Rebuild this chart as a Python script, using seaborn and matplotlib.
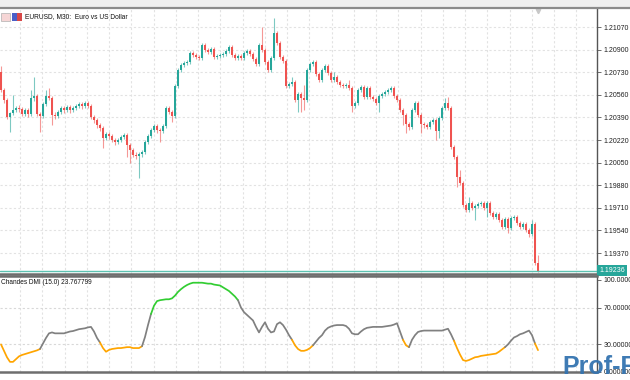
import numpy as np
import pandas as pd
import matplotlib
matplotlib.use("Agg")
import matplotlib.pyplot as plt
from matplotlib.patches import Rectangle
from matplotlib.lines import Line2D
from matplotlib.transforms import blended_transform_factory
import seaborn as sns

# ---------------- data ----------------
symbol_title = "EURUSD, M30:  Euro vs US Dollar"
indicator_title = "Chandes DMI (15.0) 23.767799"
last_price_label = "1.19236"

first_open = 1.20732
closes = [
    1.20596, 1.20521, 1.20393, 1.20423, 1.20446, 1.20461, 1.20453, 1.20416, 1.20446, 1.20416,
    1.20536, 1.20551, 1.20416, 1.20401, 1.20491, 1.20551, 1.20536, 1.20408, 1.20401, 1.20431,
    1.20461, 1.20446, 1.20468, 1.20446, 1.20461, 1.20476, 1.20491, 1.20476, 1.20499, 1.20476,
    1.20393, 1.20371, 1.20333, 1.20310, 1.20235, 1.20265, 1.20250, 1.20220, 1.20205, 1.20220,
    1.20243, 1.20258, 1.20183, 1.20145, 1.20107, 1.20100, 1.20115, 1.20130, 1.20205, 1.20250,
    1.20295, 1.20326, 1.20295, 1.20288, 1.20326, 1.20461, 1.20431, 1.20401, 1.20626, 1.20747,
    1.20784, 1.20799, 1.20807, 1.20874, 1.20859, 1.20844, 1.20837, 1.20935, 1.20897, 1.20882,
    1.20905, 1.20844, 1.20852, 1.20859, 1.20867, 1.20890, 1.20920, 1.20859, 1.20837, 1.20852,
    1.20837, 1.20874, 1.20890, 1.20867, 1.20829, 1.20792, 1.20935, 1.20897, 1.20807, 1.20747,
    1.20837, 1.21025, 1.20950, 1.20844, 1.20814, 1.20626, 1.20641, 1.20656, 1.20521, 1.20566,
    1.20536, 1.20521, 1.20747, 1.20792, 1.20807, 1.20717, 1.20671, 1.20747, 1.20777, 1.20724,
    1.20671, 1.20694, 1.20656, 1.20634, 1.20626, 1.20634, 1.20611, 1.20476, 1.20499, 1.20596,
    1.20619, 1.20544, 1.20611, 1.20544, 1.20529, 1.20499, 1.20551, 1.20566, 1.20581, 1.20596,
    1.20611, 1.20551, 1.20521, 1.20446, 1.20408, 1.20341, 1.20318, 1.20446, 1.20499, 1.20408,
    1.20341, 1.20333, 1.20318, 1.20355, 1.20371, 1.20288, 1.20386, 1.20461, 1.20499, 1.20461,
    1.20168, 1.20092, 1.19942, 1.19897, 1.19731, 1.19694, 1.19747, 1.19709, 1.19724, 1.19739,
    1.19747, 1.19709, 1.19747, 1.19671, 1.19641, 1.19664, 1.19619, 1.19566, 1.19626, 1.19559,
    1.19634, 1.19641, 1.19596, 1.19566, 1.19589, 1.19543, 1.19513, 1.19589, 1.19295, 1.19236,
]
highs = [
    1.20777, 1.20611, 1.20536, 1.20431, 1.20559, 1.20476, 1.20483, 1.20468, 1.20461, 1.20461,
    1.20596, 1.20694, 1.20566, 1.20431, 1.20506, 1.20596, 1.20611, 1.20551, 1.20431, 1.20446,
    1.20476, 1.20476, 1.20483, 1.20483, 1.20476, 1.20491, 1.20506, 1.20506, 1.20514, 1.20514,
    1.20491, 1.20408, 1.20386, 1.20348, 1.20326, 1.20280, 1.20280, 1.20265, 1.20235, 1.20235,
    1.20258, 1.20273, 1.20273, 1.20198, 1.20160, 1.20130, 1.20130, 1.20145, 1.20220, 1.20265,
    1.20310, 1.20341, 1.20341, 1.20310, 1.20341, 1.20476, 1.20476, 1.20446, 1.20641, 1.20762,
    1.20799, 1.20814, 1.20822, 1.20890, 1.20890, 1.20874, 1.20859, 1.20950, 1.20950, 1.20912,
    1.20920, 1.20920, 1.20867, 1.20874, 1.20882, 1.20905, 1.20935, 1.20935, 1.20874, 1.20867,
    1.20867, 1.20890, 1.20905, 1.20905, 1.20882, 1.20844, 1.20950, 1.21070, 1.20912, 1.20822,
    1.20852, 1.21138, 1.21040, 1.20965, 1.20859, 1.20829, 1.20656, 1.20694, 1.20671, 1.20581,
    1.20581, 1.20634, 1.20762, 1.20807, 1.20822, 1.20822, 1.20732, 1.20762, 1.20792, 1.20792,
    1.20739, 1.20732, 1.20709, 1.20671, 1.20649, 1.20649, 1.20671, 1.20626, 1.20514, 1.20611,
    1.20634, 1.20634, 1.20626, 1.20626, 1.20559, 1.20544, 1.20566, 1.20581, 1.20596, 1.20611,
    1.20626, 1.20626, 1.20566, 1.20536, 1.20461, 1.20423, 1.20355, 1.20461, 1.20514, 1.20514,
    1.20423, 1.20355, 1.20348, 1.20371, 1.20386, 1.20386, 1.20401, 1.20476, 1.20536, 1.20544,
    1.20476, 1.20183, 1.20107, 1.19995, 1.19912, 1.19747, 1.19792, 1.19762, 1.19739, 1.19754,
    1.19762, 1.19762, 1.19762, 1.19762, 1.19686, 1.19679, 1.19679, 1.19634, 1.19641, 1.19641,
    1.19649, 1.19656, 1.19656, 1.19611, 1.19604, 1.19604, 1.19559, 1.19619, 1.19604, 1.19355,
]
lows = [
    1.20581, 1.20499, 1.20378, 1.20280, 1.20408, 1.20431, 1.20431, 1.20401, 1.20401, 1.20393,
    1.20401, 1.20514, 1.20401, 1.20280, 1.20386, 1.20476, 1.20521, 1.20333, 1.20378, 1.20386,
    1.20416, 1.20423, 1.20431, 1.20423, 1.20431, 1.20446, 1.20461, 1.20453, 1.20461, 1.20461,
    1.20378, 1.20348, 1.20310, 1.20288, 1.20160, 1.20220, 1.20228, 1.20205, 1.20183, 1.20190,
    1.20205, 1.20228, 1.20092, 1.20047, 1.20092, 1.20077, 1.19934, 1.20092, 1.20115, 1.20190,
    1.20235, 1.20280, 1.20273, 1.20205, 1.20273, 1.20310, 1.20416, 1.20355, 1.20386, 1.20611,
    1.20732, 1.20769, 1.20784, 1.20792, 1.20844, 1.20829, 1.20822, 1.20822, 1.20882, 1.20867,
    1.20867, 1.20829, 1.20829, 1.20837, 1.20844, 1.20852, 1.20874, 1.20844, 1.20822, 1.20822,
    1.20822, 1.20822, 1.20859, 1.20852, 1.20814, 1.20777, 1.20777, 1.20882, 1.20792, 1.20732,
    1.20732, 1.20822, 1.20935, 1.20829, 1.20799, 1.20611, 1.20611, 1.20626, 1.20506, 1.20431,
    1.20431, 1.20446, 1.20506, 1.20732, 1.20777, 1.20702, 1.20656, 1.20656, 1.20732, 1.20709,
    1.20656, 1.20656, 1.20641, 1.20619, 1.20611, 1.20611, 1.20596, 1.20431, 1.20461, 1.20483,
    1.20581, 1.20529, 1.20529, 1.20529, 1.20514, 1.20483, 1.20431, 1.20536, 1.20551, 1.20566,
    1.20581, 1.20536, 1.20506, 1.20431, 1.20333, 1.20273, 1.20295, 1.20303, 1.20431, 1.20393,
    1.20273, 1.20310, 1.20303, 1.20303, 1.20341, 1.20220, 1.20235, 1.20371, 1.20446, 1.20446,
    1.20153, 1.20077, 1.19867, 1.19882, 1.19716, 1.19679, 1.19679, 1.19694, 1.19619, 1.19709,
    1.19724, 1.19694, 1.19641, 1.19656, 1.19626, 1.19626, 1.19604, 1.19551, 1.19551, 1.19521,
    1.19543, 1.19619, 1.19581, 1.19551, 1.19551, 1.19528, 1.19491, 1.19498, 1.19280, 1.19230,
]
dmi = [
    30, 23, 16, 11, 11, 14, 17, 18.5, 19.5, 20.5,
    21.5, 22.5, 23.5, 25, 31, 37, 42, 43, 42, 42,
    42, 42, 43, 44, 44.5, 45.5, 46.5, 47, 47.5, 48.5,
    49, 44, 37, 32, 26, 22, 24, 25, 25.5, 26,
    26, 26.5, 27, 27, 26, 26, 26, 28, 38, 51,
    63, 72, 77, 78, 78.5, 79, 79, 80, 83, 87,
    90, 92.5, 94.5, 96, 97, 97, 97, 97, 96.5, 96,
    96, 95, 94.5, 94, 92, 90, 88, 85, 82, 78,
    70, 65, 62, 59, 56, 49, 43, 49, 54, 47,
    43, 44, 52, 54, 51, 46, 40, 35, 29, 25,
    23, 23, 24, 26, 29, 33, 37, 40, 45, 48,
    49.5, 50.5, 51, 51, 51, 50, 47, 42, 41, 41,
    44, 46.5, 48, 48.5, 49, 49, 49, 49, 49.5, 50,
    50.5, 51.5, 53, 44, 35, 29, 27, 35, 40, 43.5,
    44.5, 45, 45, 45, 45, 45, 45, 45, 46, 47,
    41, 34, 26, 19, 13, 12, 13, 14.5, 16, 16.5,
    17.5, 18, 18.5, 19, 19.5, 20, 22, 24.5, 27, 30,
    34, 37.5, 39, 41, 42, 43.5, 45, 40, 31, 23.767799,
]
price_ticks = [1.21070, 1.20900, 1.20730, 1.20560, 1.20390, 1.20220,
               1.20050, 1.19880, 1.19710, 1.19540, 1.19370]
price_tick_labels = ["1.21070", "1.20900", "1.20730", "1.20560", "1.20390", "1.20220",
                     "1.20050", "1.19880", "1.19710", "1.19540", "1.19370"]
dmi_ticks = [100, 70, 30, 0]
dmi_tick_labels = ["100.000000", "70.000000", "30.000000", "0.000000"]
dmi_levels = [70, 30]

# ---------------- style ----------------
sns.set_theme(style="white")
plt.rcParams['font.family'] = ['Liberation Sans', 'DejaVu Sans']

BULL = "#26a69a"
BEAR = "#ef5350"
GREEN = "#32cd32"
GRAY = "#808080"
ORANGE = "#ffa500"
GRID = "#e2e2e2"
FS = 5.0

W, H = 630, 380
fig = plt.figure(figsize=(6.3, 3.8), dpi=100)
fig.patch.set_facecolor("white")


def px_rect(x0, y0, x1, y1):
    return [x0 / W, 1 - y1 / H, (x1 - x0) / W, (y1 - y0) / H]


ax = fig.add_axes(px_rect(0, 8, 597, 274))
ax2 = fig.add_axes(px_rect(0, 276, 597, 372))

# top window band
fig.patches.append(Rectangle((0, 1 - 7 / H), 1, 7 / H, transform=fig.transFigure,
                             facecolor="#f0f0f0", edgecolor="none", zorder=0))
fig.lines.append(Line2D([0, 1], [1 - 7.5 / H, 1 - 7.5 / H], transform=fig.transFigure,
                        color="#8c8c8c", lw=1.6))

df = pd.DataFrame({"close": closes, "high": highs, "low": lows})
df["open"] = [first_open] + closes[:-1]
df["idx"] = np.arange(len(df))
bull = df["close"] >= df["open"]
colors = np.where(bull, BULL, BEAR)

x_left, x_right = -1 / 3, (597 - 1) / 3
grid_x = [(20 + 22.25 * k - 1) / 3 for k in range(27)]

# ---------------- main pane ----------------
for gx in grid_x:
    ax.axvline(gx, color=GRID, lw=0.8, ls=(0, (2, 2)), zorder=0)
for t in price_ticks:
    ax.axhline(t, color=GRID, lw=0.8, ls=(0, (2, 2)), zorder=0)

ax.vlines(df["idx"], df["low"], df["high"], colors=colors, lw=0.8, alpha=0.6, zorder=2)
body = (df["close"] - df["open"]).abs().clip(lower=0.00003)
ax.bar(df["idx"], body, bottom=np.minimum(df["open"], df["close"]), width=0.66,
       color=colors, linewidth=0, zorder=3)

ax.axhline(closes[-1], color="#5cc2b2", lw=1.0, zorder=4)
ax.set_xlim(x_left, x_right)
ax.set_ylim(1.192126, 1.212129)
ax.yaxis.tick_right()
ax.set_yticks(price_ticks)
ax.set_yticklabels(price_tick_labels)
ax.set_xticks([])
ax.tick_params(axis="y", direction="out", length=3, width=0.6, color="#555555",
               labelsize=FS, labelcolor="#202020", pad=1.5, right=True, left=False)
for s in ["left", "top"]:
    ax.spines[s].set_visible(False)
ax.spines["right"].set_color("#555555")
ax.spines["right"].set_linewidth(1.0)
ax.spines["bottom"].set_color("#6e6e6e")
ax.spines["bottom"].set_linewidth(1.8)
ax.set_xlabel("")
ax.set_ylabel("")

tr = blended_transform_factory(ax.transAxes, ax.transData)
ax.text(1.004, closes[-1], last_price_label, transform=tr, ha="left", va="center",
        fontsize=FS, color="white",
        bbox=dict(boxstyle="square,pad=0.3", fc=BULL, ec="none"), clip_on=False, zorder=6)
tr2 = blended_transform_factory(ax.transData, ax.transAxes)
ax.plot([len(closes) - 1], [0.988], transform=tr2, marker="v", ms=3.2,
        color="#c8c8c8", clip_on=False, zorder=5)

# ---------------- indicator pane ----------------
for gx in grid_x:
    ax2.axvline(gx, color=GRID, lw=0.8, ls=(0, (2, 2)), zorder=0)
for lv in dmi_levels:
    ax2.axhline(lv, color="#d8d8d8", lw=0.8, ls=(0, (2, 2)), zorder=0)


def level_color(v):
    if v > 70:
        return GREEN
    if v < 30:
        return ORANGE
    return GRAY


seg_colors = [level_color(v) for v in dmi[1:]]
idx = list(range(len(dmi)))
start = 0
for k in range(1, len(seg_colors) + 1):
    if k == len(seg_colors) or seg_colors[k] != seg_colors[start]:
        sns.lineplot(x=idx[start:k + 1], y=dmi[start:k + 1], color=seg_colors[start],
                     ax=ax2, lw=1.25, estimator=None, sort=False, zorder=3)
        start = k

ax2.set_xlim(x_left, x_right)
ax2.set_ylim(0, 104.3)
ax2.yaxis.tick_right()
ax2.set_yticks(dmi_ticks)
ax2.set_yticklabels(dmi_tick_labels)
ax2.set_xticks([])
ax2.tick_params(axis="y", direction="out", length=3, width=0.6, color="#555555",
                labelsize=FS, labelcolor="#202020", pad=1.5, right=True, left=False)
ax2.spines["left"].set_visible(False)
ax2.spines["right"].set_color("#555555")
ax2.spines["right"].set_linewidth(1.0)
for s in ["top", "bottom"]:
    ax2.spines[s].set_color("#6e6e6e")
    ax2.spines[s].set_linewidth(1.8)
ax2.set_xlabel("")
ax2.set_ylabel("")

# ---------------- texts ----------------
fig.patches.append(Rectangle((1 / W, 1 - 21 / H), 9 / W, 8 / H, transform=fig.transFigure,
                             facecolor="#f6d6d6", edgecolor="#b0b0b0", lw=0.5, zorder=5))
fig.patches.append(Rectangle((12 / W, 1 - 21 / H), 5 / W, 8 / H, transform=fig.transFigure,
                             facecolor="#4a5fc8", edgecolor="none", zorder=5))
fig.patches.append(Rectangle((17 / W, 1 - 21 / H), 5 / W, 8 / H, transform=fig.transFigure,
                             facecolor="#d84848", edgecolor="none", zorder=5))
fig.text(25 / W, 1 - 17 / H, symbol_title, fontsize=4.8, color="#101010",
         ha="left", va="center")
fig.text(1 / W, 1 - 283 / H, indicator_title, fontsize=4.7, color="#101010",
         ha="left", va="center")

# watermark
fig.text(562 / W, 1 - 374 / H, "Prof-F", fontsize=18, fontweight="bold",
         color="#3474b0", ha="left", va="baseline", alpha=0.95, zorder=10)

fig.savefig("out.png", dpi=100)
